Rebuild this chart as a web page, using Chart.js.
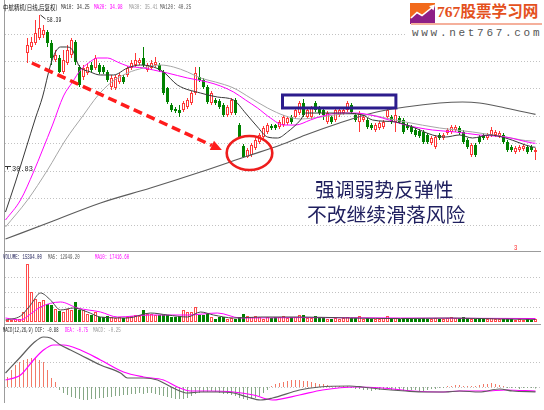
<!DOCTYPE html>
<html lang="zh-CN">
<head>
<meta charset="utf-8">
<title>中航精机 日线</title>
<script src="https://cdn.jsdelivr.net/npm/chart.js@4/dist/chart.umd.min.js"></script>
<style>
  html, body { margin:0; padding:0; background:#fff; }
  #board { position:relative; width:544px; height:410px; overflow:hidden; background:#fff; }
  #board canvas { position:absolute; left:0; }
  .rule { position:absolute; background:#9c9c9c; }
  .cap { position:absolute; white-space:nowrap; font-family:"Liberation Mono","DejaVu Sans Mono",monospace;
         font-size:7px; line-height:8px; transform-origin:0 0; transform:scaleX(0.62); color:#222; }
  .cjk { font-family:"Noto Sans CJK SC",sans-serif; transform:scaleX(0.78); }
  .note { position:absolute; white-space:nowrap; font-family:"Noto Sans CJK SC",sans-serif;
          font-size:19.8px; line-height:22px; color:#20205f; }
  #logo { position:absolute; left:405px; top:0; width:139px; height:41px; background:#fff; }
  #logoText { position:absolute; left:32px; top:1px; font-family:"Liberation Serif","Noto Sans CJK SC",serif;
              font-weight:700; font-size:15.6px; line-height:22px; color:#e4511d; white-space:nowrap; }
  #logoLine { position:absolute; left:6px; top:23px; width:131px; height:2px; background:#f5b09c; }
  #logoUrl { position:absolute; left:7px; top:27px; font-family:"Liberation Mono",monospace; font-size:11px;
             line-height:12px; letter-spacing:2.7px; color:#555; white-space:nowrap; }
</style>
</head>
<body>
<div id="board">
  <canvas id="priceChart" width="544" height="252" style="top:0"></canvas>
  <canvas id="volChart" width="544" height="70" style="top:252px"></canvas>
  <canvas id="macdChart" width="544" height="85" style="top:325px"></canvas>

  <div class="rule" style="left:4px;top:0;width:1px;height:403px"></div>
  <div class="rule" style="left:4px;top:251px;width:537px;height:1px"></div>
  <div class="rule" style="left:4px;top:324px;width:537px;height:1px"></div>

  <span class="cap cjk" style="left:3px;top:3px;color:#111">中航精机(日线,后复权)</span>
  <span class="cap" style="left:61px;top:3px;color:#333">MA10: 34.25</span>
  <span class="cap" style="left:94px;top:3px;color:#ff00ff">MA20: 34.98</span>
  <span class="cap" style="left:129px;top:3px;color:#9a9a9a">MA30: 35.41</span>
  <span class="cap" style="left:160px;top:3px;color:#555">MA120: 40.25</span>

  <span class="cap" style="left:3px;top:253px;color:#1c1c55;transform:scaleX(0.58)">VOLUME: 15394.00</span>
  <span class="cap" style="left:48px;top:253px;color:#555;transform:scaleX(0.58)">MA5: 12949.20</span>
  <span class="cap" style="left:95px;top:253px;color:#ff00ff;transform:scaleX(0.58)">MA10: 17416.60</span>

  <span class="cap" style="left:3px;top:326px;color:#222;transform:scaleX(0.55)">MACD(12,26,9) DIF: -0.88</span>
  <span class="cap" style="left:65px;top:326px;color:#ff00ff;transform:scaleX(0.55)">DEA: -0.75</span>
  <span class="cap" style="left:93px;top:326px;color:#999;transform:scaleX(0.6)">MACD: -0.25</span>

  <span class="cap" id="hiLabel" style="transform:scaleX(0.68)"></span>
  <span class="cap" id="loLabel" style="transform:none"></span>
  <span class="cap" style="left:514px;top:244px;color:#ff2020;transform:scaleX(0.8)">3</span>

  <div class="note" style="left:315px;top:178px">强调弱势反弹性</div>
  <div class="note" style="left:307px;top:203px">不改继续滑落风险</div>

  <div id="logo">
    <svg style="position:absolute;left:5px;top:3px" width="25" height="21" viewBox="0 0 25 21">
      <rect width="25" height="21" fill="#f26a1b"/>
      <polygon points="0,21 0,16 7,10 12,13 25,3 25,21" fill="#8e1f86"/>
      <polyline points="1,15 7,9.5 12,12.5 22,4.5" fill="none" stroke="#fff" stroke-width="1.6"/>
      <polygon points="19,3 25,1.5 23.5,7.5" fill="#fff"/>
    </svg>
    <div id="logoText">767股票学习网</div>
    <div id="logoLine"></div>
    <div id="logoUrl">www.net767.com</div>
  </div>
</div>

<script>
// ---------------- daily bars (index 0..132), prices after back-adjustment ----------------
const openP = [
  null, null, null, null, null, 51.45, 52.55, 53.28, 54.19, 54.74,
  55.29, 53.28, 50.18, 50.54, 47.99, 49.63, 51.09, 53.46, 48.90, 47.07,
  47.80, 49.26, 48.72, 49.26, 48.90, 47.99, 45.25, 45.07, 46.16, 47.07,
  47.44, 48.72, 49.26, 49.63, 50.54, 48.35, 48.72, 49.26, 49.26, 47.99,
  45.07, 41.96, 41.23, 41.05, 41.05, 41.60, 42.33, 44.15, 47.07, 46.53,
  45.25, 42.33, 42.88, 42.69, 41.96, 40.14, 40.50, 42.88, 38.31, 34.48,
  32.47, 32.84, 34.12, 35.21, 36.12, 37.04, 38.13, 38.31, 37.95, 38.31,
  38.68, 39.77, 39.77, 40.50, 42.33, 39.77, 39.77, 42.33, 41.42, 41.05,
  38.86, 39.77, 39.23, 40.14, 40.50, 41.05, 41.96, 40.14, 38.86, 39.23,
  39.23, 38.31, 37.40, 37.77, 37.95, 39.77, 39.77, 38.86, 39.59, 39.23,
  38.31, 37.95, 37.40, 37.22, 37.04, 36.49, 35.03, 34.30, 36.49, 35.94,
  36.85, 37.04, 37.40, 37.77, 37.04, 35.58, 32.84, 34.66, 36.12, 36.49,
  35.94, 36.49, 36.49, 36.31, 36.49, 35.21, 34.30, 33.39, 33.75, 33.93,
  34.30, 34.30, 33.39
];
const highP = [
  null, null, null, null, null, 54.19, 54.38, 57.48, 58.39, 56.57,
  55.65, 53.83, 52.00, 51.09, 52.00, 52.91, 54.19, 53.83, 49.26, 49.26,
  49.63, 49.81, 51.09, 49.63, 49.26, 48.35, 47.44, 47.44, 47.80, 47.44,
  49.08, 50.18, 51.45, 50.54, 52.55, 49.63, 50.18, 50.72, 49.63, 48.35,
  45.25, 42.33, 41.60, 41.96, 42.69, 43.24, 44.52, 48.90, 48.90, 46.89,
  45.61, 44.52, 43.24, 43.06, 42.33, 41.96, 43.24, 43.24, 38.68, 34.85,
  34.12, 35.03, 35.94, 36.85, 38.13, 38.68, 38.50, 38.50, 39.23, 40.14,
  39.96, 40.14, 41.42, 42.69, 43.06, 41.42, 41.78, 42.69, 41.78, 41.42,
  40.87, 40.14, 41.42, 41.42, 41.42, 42.69, 42.33, 40.50, 40.87, 40.14,
  39.59, 38.68, 38.68, 39.04, 39.23, 41.60, 40.14, 41.42, 39.96, 39.59,
  38.68, 38.31, 37.77, 37.58, 37.40, 36.85, 36.31, 36.49, 36.85, 36.85,
  37.77, 38.31, 38.31, 38.13, 37.40, 35.94, 35.03, 35.03, 36.49, 36.85,
  36.85, 37.95, 37.40, 37.22, 36.85, 35.58, 34.66, 34.48, 34.66, 34.85,
  34.66, 34.66, 34.12
];
const lowP = [
  null, null, null, null, null, 49.63, 52.00, 52.91, 53.83, 54.19,
  52.55, 49.26, 49.81, 47.80, 47.62, 49.26, 50.54, 49.26, 45.25, 46.53,
  47.44, 47.99, 48.35, 47.62, 47.62, 46.16, 44.70, 44.70, 45.80, 45.80,
  47.07, 48.35, 48.90, 49.26, 48.90, 47.99, 48.35, 48.90, 47.99, 43.79,
  42.15, 40.69, 40.50, 39.77, 40.69, 41.23, 41.96, 43.79, 46.16, 44.88,
  42.15, 41.96, 41.96, 41.23, 39.77, 39.77, 40.14, 40.14, 35.76, 32.29,
  32.29, 32.47, 33.75, 34.85, 35.76, 36.67, 37.40, 37.40, 37.58, 37.95,
  38.31, 38.50, 39.41, 40.14, 39.77, 39.41, 39.41, 40.69, 40.14, 39.23,
  38.50, 38.50, 38.86, 39.77, 40.14, 40.69, 40.32, 38.86, 37.04, 38.86,
  37.58, 37.40, 37.04, 37.40, 37.58, 39.41, 38.50, 37.04, 38.50, 36.67,
  37.40, 36.67, 36.12, 35.94, 34.85, 34.85, 34.66, 33.93, 35.58, 35.58,
  36.49, 36.67, 37.04, 36.49, 34.85, 33.93, 32.47, 32.47, 34.85, 35.58,
  35.58, 36.12, 36.12, 35.94, 34.85, 33.39, 33.39, 33.02, 33.39, 33.57,
  33.02, 33.39, 31.93
];
const closeP = [
  null, null, null, null, null, 52.91, 53.46, 55.10, 56.02, 55.65,
  53.28, 50.54, 51.09, 47.99, 50.18, 52.00, 53.83, 49.81, 45.61, 48.72,
  48.90, 48.35, 50.54, 47.99, 47.99, 46.53, 46.89, 47.07, 47.44, 46.16,
  48.72, 49.63, 50.18, 50.18, 49.26, 49.26, 49.63, 49.81, 48.35, 44.15,
  42.51, 41.05, 40.87, 40.50, 42.33, 42.88, 44.15, 47.80, 46.53, 45.25,
  42.51, 44.15, 42.33, 41.60, 40.14, 41.60, 42.88, 40.50, 36.12, 32.47,
  33.75, 34.66, 35.58, 36.49, 37.77, 38.31, 37.77, 37.77, 38.86, 39.77,
  39.59, 38.86, 41.05, 42.33, 40.14, 41.05, 41.42, 41.05, 40.50, 40.14,
  40.50, 38.86, 41.05, 41.05, 41.05, 42.33, 40.69, 39.23, 40.50, 39.77,
  37.95, 37.77, 38.31, 38.68, 38.86, 41.05, 38.86, 40.14, 38.86, 37.04,
  37.77, 37.04, 36.49, 36.31, 35.21, 35.21, 35.94, 36.12, 35.94, 36.49,
  37.40, 37.95, 37.95, 36.85, 35.21, 34.30, 34.66, 32.84, 35.21, 35.94,
  36.49, 37.40, 37.04, 36.85, 35.21, 33.75, 33.75, 34.12, 34.30, 34.48,
  33.39, 33.75, 33.75
];
const volume = [
  10000, 10000, 15000, 15000, 50000, 290000, 150000, 115000, 100000, 110000,
  90000, 85000, 65000, 55000, 50000, 65000, 60000, 100000, 60000, 60000,
  40000, 35000, 50000, 25000, 25000, 30000, 25000, 20000, 25000, 20000,
  25000, 30000, 35000, 30000, 60000, 40000, 40000, 35000, 35000, 35000,
  35000, 25000, 25000, 30000, 60000, 50000, 50000, 75000, 35000, 35000,
  40000, 25000, 15000, 25000, 25000, 15000, 20000, 15000, 25000, 40000,
  30000, 25000, 30000, 25000, 15000, 25000, 20000, 25000, 25000, 30000,
  20000, 25000, 25000, 35000, 35000, 20000, 20000, 30000, 20000, 20000,
  15000, 15000, 20000, 15000, 20000, 25000, 20000, 20000, 30000, 15000,
  20000, 15000, 15000, 15000, 20000, 30000, 15000, 20000, 15000, 20000,
  15000, 15000, 15000, 15000, 20000, 15000, 15000, 20000, 15000, 15000,
  20000, 25000, 20000, 20000, 25000, 20000, 15000, 15000, 15000, 15000,
  15000, 20000, 15000, 15000, 15000, 15000, 15000, 10000, 15000, 10000,
  15000, 10000, 15394
];
const macdBar = [
  1.80, 3.06, 3.96, 4.50, 4.86, 5.04, 5.22, 5.22, 4.86, 4.50,
  3.06, 1.62, 0.90, -0.54, -1.08, -1.44, -1.80, -1.98, -2.16, -2.34,
  -2.34, -2.16, -2.16, -1.98, -1.98, -1.80, -1.80, -1.62, -1.62, -1.44,
  -1.44, -1.26, -1.26, -1.08, -1.26, -1.08, -1.08, -1.26, -1.44, -1.62,
  -1.80, -1.98, -2.16, -2.16, -2.16, -1.98, -1.62, -1.26, -1.08, -0.90,
  -0.90, -0.72, -0.90, -1.08, -1.26, -1.26, -1.44, -1.62, -1.98, -2.16,
  -2.34, -2.16, -1.98, -1.62, -1.08, -0.54, 0.18, 0.54, 0.72, 0.90,
  1.08, 1.26, 1.26, 1.26, 1.08, 1.08, 0.90, 0.72, 0.54, 0.54,
  0.36, 0.18, 0.18, 0.18, 0.18, 0.18, -0.18, -0.36, -0.36, -0.54,
  -0.54, -0.72, -0.54, -0.54, -0.36, -0.36, -0.54, -0.54, -0.72, -0.72,
  -0.72, -0.54, -0.54, -0.72, -0.72, -0.54, -0.36, -0.36, -0.18, -0.18,
  0.18, 0.18, 0.36, 0.36, 0.18, 0.18, 0.18, 0.18, 0.36, 0.54,
  0.54, 0.72, 0.54, 0.36, 0.18, -0.18, -0.18, -0.18, -0.36, -0.18,
  -0.18, -0.18, -0.25
];

// ---------------- moving-average curves: [day position, value] ----------------
const ma10Line = [[-0.5,22.43],[2,27.91],[4.5,33.75],[7,39.59],[8.75,43.42],[10.75,49.26],[12,51.64],[13.25,52.55],[14.75,52.55],[16.25,52.00],[17.75,49.26],[20.75,47.99],[23.25,47.44],[26.5,47.44],[30,48.72],[33.25,49.26],[36.5,48.90],[39,47.99],[42.5,45.61],[48.25,44.15],[52.5,43.42],[56.5,42.88],[59.5,40.50],[62.5,37.95],[65,36.12],[67.5,35.94],[70,37.04],[73.25,39.23],[74.5,40.50],[83,40.50],[88.75,40.14],[91.25,39.23],[97,38.86],[101.25,37.95],[106.25,36.49],[109.5,36.12],[113,36.49],[116.25,35.94],[120.5,36.49],[124.5,35.94],[131.25,34.30],[132,34.25]];
const ma20Line = [[-0.5,20.97],[3.25,24.62],[6.5,29.73],[8.75,33.75],[11.25,38.31],[14,43.61],[16.25,46.16],[18.25,48.35],[20.25,49.63],[22.5,50.54],[25,50.54],[27.5,49.81],[30,49.08],[34,48.72],[36.5,48.35],[40,47.80],[45,46.89],[50,46.16],[53.25,45.43],[56.5,44.34],[59.5,42.88],[62.5,41.42],[65.75,39.59],[69,38.31],[72,38.31],[75.75,39.23],[78.75,39.96],[83.25,40.50],[87,40.50],[90.75,40.14],[93.75,39.59],[99.5,38.31],[106.25,37.40],[112,37.04],[118,36.49],[124.5,36.12],[131.25,35.03],[132,34.98]];
const ma30Line = [[-0.5,19.70],[5,24.62],[10,30.10],[14.5,35.58],[19,40.14],[22.5,43.61],[25.75,45.98],[30,47.80],[34,48.72],[38.25,49.26],[41.5,48.90],[45,47.99],[48.25,46.89],[52,46.16],[56.5,45.07],[60.75,43.24],[65,41.42],[69.5,39.96],[73.25,39.41],[78.25,39.77],[84.5,40.32],[90.75,40.14],[94.5,39.59],[99.5,38.86],[108,37.77],[116.25,37.04],[124.5,36.12],[131.25,35.39],[132,35.41]];
const ma120Line = [[-0.5,17.51],[10.75,20.61],[23.25,24.08],[35.75,26.81],[48.25,29.73],[60,32.65],[68.25,34.66],[74.5,36.49],[83,38.68],[91.25,40.50],[99.5,41.60],[108,42.33],[113.75,42.51],[118,42.33],[124.5,41.42],[132,40.25]];
const volMa5Line = [[-0.5,10000],[3.25,30000],[5.75,85000],[8.25,145000],[10.75,110000],[13.25,60000],[16.5,70000],[20,50000],[23.25,25000],[30,20000],[35.75,45000],[40,35000],[45,25000],[48.25,50000],[51.5,35000],[56.5,20000],[63.25,25000],[73.25,25000],[85.75,20000],[98.25,17000],[110.75,20000],[123.25,15000],[132,12949]];
const volMa10Line = [[-0.5,20000],[3.25,10000],[5.75,40000],[8.25,75000],[13.25,100000],[17.5,70000],[23.25,50000],[27.5,25000],[35.75,35000],[45,35000],[52.5,45000],[58.25,20000],[73.25,22000],[98.25,20000],[132,17417]];
const difLine = [[-0.5,2.52],[3.25,5.40],[6.5,7.92],[9,9.00],[10.75,8.82],[13.25,7.56],[15.75,6.66],[18.25,5.76],[23.25,3.96],[28.25,2.52],[30,1.62],[34,1.62],[37.5,1.26],[40,0.36],[42.5,-0.54],[45,-1.08],[48.25,-0.90],[52.5,-0.90],[56.5,-1.08],[60,-1.80],[63.25,-2.34],[66.25,-1.98],[73,-0.54],[78,0.00],[85.5,0.18],[88.75,0.00],[93,-0.36],[99.5,-0.72],[104.5,-0.90],[109.5,-0.90],[113,-0.72],[118,-0.90],[123,-0.36],[126.25,-0.72],[132,-0.88]];
const deaLine = [[-0.5,1.26],[3.25,2.16],[6.5,4.86],[9,6.66],[11.5,7.56],[14,7.56],[18.25,6.66],[23.25,4.86],[29,2.70],[34,1.80],[39,1.26],[42.5,0],[45.75,-0.72],[50,-0.72],[56.5,-0.90],[61.5,-1.44],[66.25,-2.34],[73,-1.44],[78.75,-0.54],[87,0],[93.75,-0.18],[101.25,-0.72],[108,-0.90],[113,-0.72],[119.5,-0.72],[124.5,-0.54],[132,-0.75]];

// horizontal reference levels of each panel
const priceGrid = [20, 25, 30, 35, 40, 45, 50, 55];
const volumeGrid = [75000, 150000, 225000];
const macdGrid = [0, 4.5];
const lowMark = 30.83;

// hand-drawn markup, in [day, price] terms
const trendArrow = { from: [6.1, 49.63], to: [53.6, 33.75] };
const reboundRing = { days: [54.8, 66.2], prices: [30.10, 36.31] };
const boxRange = { days: [68.75, 97.1], prices: [41.42, 43.79] };

// ---------------- drawing ----------------
const X_MIN = -0.625, X_MAX = 133.125;
const RED = '#ff3838', GREEN = '#008200';
const dayIdx = openP.map((_, i) => i);
const candleDays = dayIdx.filter(i => openP[i] !== null);
const rising = i => openP[i] === null || closeP[i] >= openP[i];
const pts = arr => arr.map(([x, y]) => ({ x, y }));

const lineSet = (label, arr, color, width) => ({
  type: 'line', label, data: pts(arr), borderColor: color, borderWidth: width,
  pointRadius: 0, fill: false, cubicInterpolationMode: 'monotone', order: 0
});

const panelGrid = {
  id: 'panelGrid',
  beforeDatasetsDraw(chart, args, opts) {
    const { ctx, chartArea: a, scales: { y } } = chart;
    ctx.save();
    ctx.strokeStyle = '#c2c2c2';
    ctx.lineWidth = 1;
    ctx.setLineDash([1, 2]);
    (opts.values || []).forEach(v => {
      const py = Math.round(y.getPixelForValue(v)) + 0.5;
      ctx.beginPath(); ctx.moveTo(a.left, py); ctx.lineTo(a.right, py); ctx.stroke();
    });
    ctx.restore();
  }
};

const markup = {
  id: 'markup',
  afterDatasetsDraw(chart) {
    const { ctx, scales: { x, y } } = chart;
    ctx.save();
    // falling trend arrow
    const x1 = x.getPixelForValue(trendArrow.from[0]), y1 = y.getPixelForValue(trendArrow.from[1]);
    const x2 = x.getPixelForValue(trendArrow.to[0]), y2 = y.getPixelForValue(trendArrow.to[1]);
    const ang = Math.atan2(y2 - y1, x2 - x1), head = 11, half = 5;
    ctx.strokeStyle = '#ff1c1c'; ctx.fillStyle = '#ff1c1c';
    ctx.lineWidth = 3.5; ctx.setLineDash([9, 5]);
    ctx.beginPath(); ctx.moveTo(x1, y1);
    ctx.lineTo(x2 - Math.cos(ang) * head, y2 - Math.sin(ang) * head); ctx.stroke();
    ctx.setLineDash([]);
    const bx = x2 - Math.cos(ang) * head, by = y2 - Math.sin(ang) * head;
    ctx.beginPath(); ctx.moveTo(x2, y2);
    ctx.lineTo(bx + Math.sin(ang) * half, by - Math.cos(ang) * half);
    ctx.lineTo(bx - Math.sin(ang) * half, by + Math.cos(ang) * half);
    ctx.closePath(); ctx.fill();
    // ring around the rebound bottom
    const ex1 = x.getPixelForValue(reboundRing.days[0]), ex2 = x.getPixelForValue(reboundRing.days[1]);
    const ey1 = y.getPixelForValue(reboundRing.prices[1]), ey2 = y.getPixelForValue(reboundRing.prices[0]);
    ctx.strokeStyle = '#ee1d1d'; ctx.lineWidth = 2.6;
    ctx.beginPath();
    ctx.ellipse((ex1 + ex2) / 2, (ey1 + ey2) / 2, (ex2 - ex1) / 2, (ey2 - ey1) / 2, 0, 0, Math.PI * 2);
    ctx.stroke();
    // box over the sideways stretch
    const rx1 = x.getPixelForValue(boxRange.days[0]), rx2 = x.getPixelForValue(boxRange.days[1]);
    const ry1 = y.getPixelForValue(boxRange.prices[1]), ry2 = y.getPixelForValue(boxRange.prices[0]);
    ctx.strokeStyle = '#2c1c8c'; ctx.lineWidth = 3;
    ctx.strokeRect(rx1, ry1, rx2 - rx1, ry2 - ry1);
    // leader to the peak price and mark of the low price
    const hd = chart.$peakDay;
    const px = x.getPixelForValue(hd), py = y.getPixelForValue(highP[hd]);
    ctx.strokeStyle = '#333'; ctx.lineWidth = 1;
    ctx.beginPath(); ctx.moveTo(px + 1, py); ctx.lineTo(px + 6, py + 4); ctx.stroke();
    const ly = Math.round(y.getPixelForValue(lowMark)) + 0.5;
    ctx.beginPath(); ctx.moveTo(chart.chartArea.left, ly); ctx.lineTo(chart.chartArea.left + 6, ly);
    ctx.moveTo(chart.chartArea.left + 2.5, ly); ctx.lineTo(chart.chartArea.left + 2.5, ly + 3); ctx.stroke();
    ctx.restore();
  }
};

const baseOptions = (yMin, yMax, gridValues) => ({
  responsive: false, animation: false, events: [], devicePixelRatio: 1,
  layout: { padding: { left: 5, right: 4, top: 0, bottom: 0 } },
  plugins: { legend: { display: false }, tooltip: { enabled: false }, panelGrid: { values: gridValues } },
  scales: {
    x: { type: 'linear', min: X_MIN, max: X_MAX, display: false, offset: false, grid: { offset: false } },
    y: { type: 'linear', min: yMin, max: yMax, display: false }
  }
});

// price panel
let peakDay = candleDays[0];
candleDays.forEach(i => { if (highP[i] > highP[peakDay]) peakDay = i; });

const priceChart = new Chart(document.getElementById('priceChart'), {
  type: 'bar',
  data: {
    datasets: [
      lineSet('MA10', ma10Line, '#383838', 1),
      lineSet('MA20', ma20Line, '#ff00ff', 1),
      lineSet('MA30', ma30Line, '#a6a6a6', 1),
      lineSet('MA120', ma120Line, '#5c5c5c', 1.2),
      {
        label: 'body', data: candleDays.map(i => ({ x: i, y: [openP[i], closeP[i]] })),
        backgroundColor: candleDays.map(i => rising(i) ? '#ffffff' : GREEN),
        borderColor: candleDays.map(i => rising(i) ? RED : GREEN),
        borderWidth: 1, borderSkipped: false, barThickness: 3, maxBarThickness: 3,
        grouped: false, inflateAmount: 0, order: 1
      },
      {
        label: 'wick', data: candleDays.map(i => ({ x: i, y: [lowP[i], highP[i]] })),
        backgroundColor: candleDays.map(i => rising(i) ? RED : GREEN),
        borderWidth: 0, barThickness: 1, maxBarThickness: 1,
        grouped: false, inflateAmount: 0, order: 2
      }
    ]
  },
  options: baseOptions(15.133, 61.128, priceGrid),
  plugins: [panelGrid, markup, { id: 'peak', beforeDraw(c) { c.$peakDay = peakDay; } }]
});

// volume panel
new Chart(document.getElementById('volChart'), {
  type: 'bar',
  data: {
    datasets: [
      lineSet('MA5', volMa5Line, '#4a4a4a', 1),
      lineSet('MA10', volMa10Line, '#ff00ff', 1),
      {
        label: 'volume', data: dayIdx.map(i => ({ x: i, y: volume[i] })),
        backgroundColor: dayIdx.map(i => rising(i) ? '#ffffff' : GREEN),
        borderColor: dayIdx.map(i => rising(i) ? '#ff4a4a' : GREEN),
        borderWidth: 1, borderSkipped: false, barThickness: 3, maxBarThickness: 3,
        grouped: false, inflateAmount: 0, order: 1
      }
    ]
  },
  options: baseOptions(0, 350000, volumeGrid),
  plugins: [panelGrid]
});

// MACD panel
new Chart(document.getElementById('macdChart'), {
  type: 'bar',
  data: {
    datasets: [
      lineSet('DIF', difLine, '#5e5e5e', 1.2),
      lineSet('DEA', deaLine, '#ff00ff', 1.2),
      {
        label: 'MACD', data: dayIdx.map(i => ({ x: i, y: macdBar[i] })),
        backgroundColor: dayIdx.map(i => macdBar[i] >= 0 ? '#f27a68' : '#86a886'),
        borderWidth: 0, barThickness: 1, maxBarThickness: 1,
        grouped: false, inflateAmount: 0, order: 1
      }
    ]
  },
  options: baseOptions(-4.14, 11.16, macdGrid),
  plugins: [panelGrid]
});

// price labels placed through the price scale
const sx = priceChart.scales.x, sy = priceChart.scales.y;
const hi = document.getElementById('hiLabel');
hi.textContent = highP[peakDay].toFixed(2);
hi.style.left = (sx.getPixelForValue(peakDay) + 7) + 'px';
hi.style.top = (sy.getPixelForValue(highP[peakDay]) + 1) + 'px';
const lo = document.getElementById('loLabel');
lo.textContent = lowMark.toFixed(2);
lo.style.left = (sx.left + 7) + 'px';
lo.style.top = (sy.getPixelForValue(lowMark) - 1) + 'px';
</script>
</body>
</html>
